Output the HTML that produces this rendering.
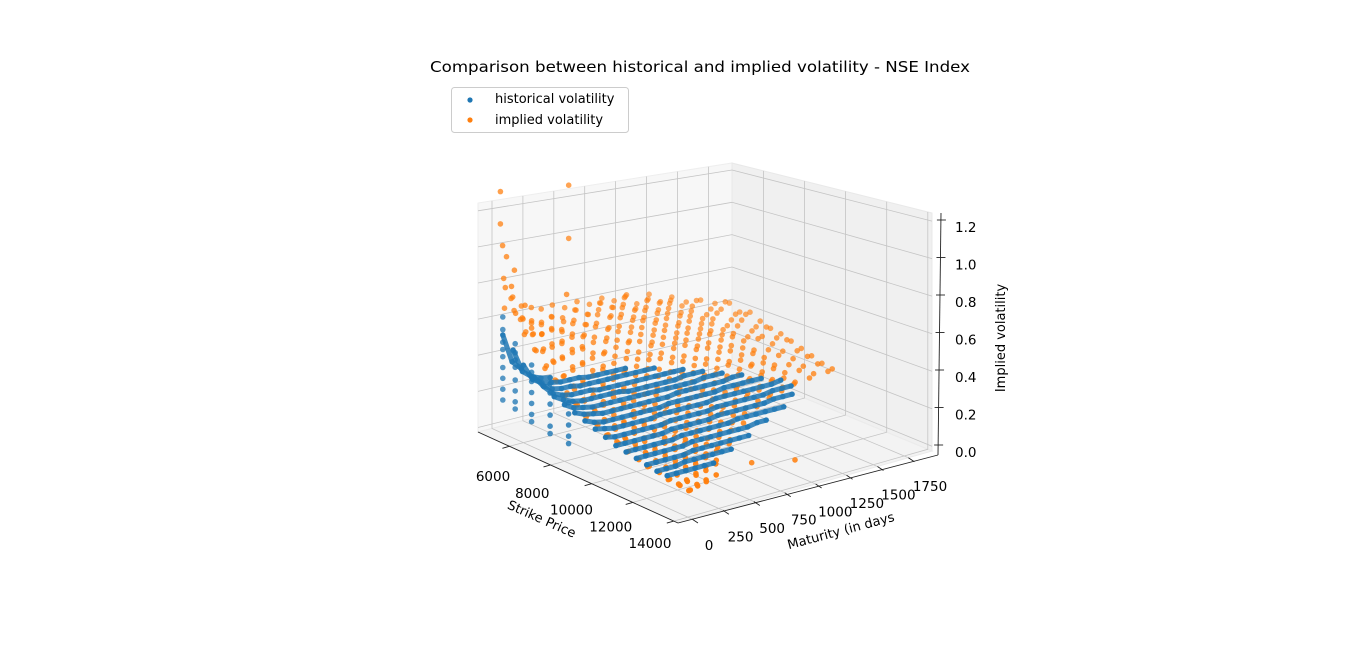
<!DOCTYPE html>
<html><head><meta charset="utf-8"><title>Historical vs implied volatility</title>
<style>
html,body{margin:0;padding:0;background:#fff;}
svg{display:block;font-family:"DejaVu Sans","Liberation Sans",sans-serif;}
</style></head>
<body>
<svg id="chart" width="1366" height="666" viewBox="0 0 1366 666" xmlns="http://www.w3.org/2000/svg">
<rect x="0" y="0" width="1366" height="666" fill="#fff"/>
<text x="700" y="72" font-size="15" text-anchor="middle" textLength="540" lengthAdjust="spacingAndGlyphs">Comparison between historical and implied volatility - NSE Index</text>
<g id="panes"></g>
<g id="grid"></g>
<g id="axes"></g>
<g id="orange"></g>
<g id="blue"></g>
<text x="540" y="523" font-size="13" text-anchor="middle" transform="rotate(24 540 523)">Strike Price</text>
<text x="842" y="535" font-size="13" text-anchor="middle" transform="rotate(-15 842 535)">Maturity (in days</text>
<text x="1005" y="338" font-size="13" text-anchor="middle" transform="rotate(-90 1005 338)">Implied volatility</text>
<g>
<rect x="451.5" y="87.5" width="177" height="45" rx="3" fill="#fff" fill-opacity="0.85" stroke="#ccc"/>
<circle cx="470" cy="100" r="2.6" fill="#1f77b4"/>
<text x="495" y="103" font-size="13">historical volatility</text>
<circle cx="470" cy="120" r="2.6" fill="#ff7f0e"/>
<text x="495" y="124" font-size="13">implied volatility</text>
</g>
</svg>
<script>
// ---- tick arrays ----
const strikeTicks = [6000, 8000, 10000, 12000, 14000];
const maturityTicks = [0, 250, 500, 750, 1000, 1250, 1500, 1750];
const volTicks = [0.0, 0.2, 0.4, 0.6, 0.8, 1.0, 1.2];
const volTickLabels = ["0.0", "0.2", "0.4", "0.6", "0.8", "1.0", "1.2"];

// ---- historical volatility (blue): rows at constant strike over a maturity grid ----
const blueMaturityGrid = [0,75,150,225,300,375,450,525,600,675,750,825,900,975,1050,1125,1200,1275,1350,1425,1500];
const blueRowStrikes = [5000,5500,6000,6500,7000,7500,8000,8500,9000,9500,10000,10500,11000,11500,12000,12500,13000];
const blueRowVols = [
 [0.52,0.36,0.31],
 [0.46,0.33,0.29,0.27,0.26],
 [0.40,0.31,0.28,0.27,0.26,0.26,0.26,0.25,0.25,0.25,0.25,0.25],
 [0.36,0.30,0.27,0.26,0.26,0.25,0.25,0.25,0.25,0.25,0.25,0.25,0.25,0.25],
 [0.33,0.28,0.26,0.25,0.25,0.25,0.24,0.24,0.24,0.24,0.24,0.24,0.24,0.24,0.24,0.24],
 [0.30,0.27,0.25,0.24,0.24,0.24,0.24,0.24,0.23,0.23,0.23,0.23,0.23,0.23,0.24,0.24,0.24],
 [0.28,0.25,0.24,0.23,0.23,0.23,0.23,0.23,0.23,0.23,0.23,0.23,0.23,0.23,0.23,0.24,0.24,0.24],
 [0.26,0.24,0.23,0.22,0.22,0.22,0.22,0.22,0.22,0.22,0.22,0.23,0.23,0.23,0.23,0.23,0.23,0.24,0.24],
 [0.24,0.22,0.21,0.21,0.21,0.21,0.21,0.21,0.21,0.22,0.22,0.22,0.22,0.22,0.22,0.23,0.23,0.23,0.23,0.23],
 [0.22,0.21,0.20,0.20,0.20,0.20,0.20,0.21,0.21,0.21,0.21,0.21,0.21,0.22,0.22,0.22,0.22,0.22,0.22,0.22,0.23],
 [0.20,0.19,0.19,0.19,0.19,0.19,0.19,0.20,0.20,0.20,0.20,0.20,0.21,0.21,0.21,0.21,0.21,0.21,0.22,0.22,0.22],
 [0.18,0.18,0.18,0.18,0.18,0.18,0.19,0.19,0.19,0.19,0.19,0.20,0.20,0.20,0.20,0.20,0.20,0.21,0.21,0.21],
 [0.17,0.17,0.17,0.17,0.17,0.17,0.18,0.18,0.18,0.18,0.18,0.18,0.19,0.19,0.19,0.19,0.19,0.19],
 [0.16,0.16,0.16,0.16,0.16,0.16,0.17,0.17,0.17,0.17,0.17,0.17,0.17,0.18,0.18],
 [0.15,0.15,0.15,0.15,0.15,0.16,0.16,0.16,0.16,0.16,0.16,0.16],
 [0.14,0.14,0.14,0.15,0.15,0.15,0.15,0.15,0.15],
 [0.14,0.14,0.14,0.14,0.14,0.14]
];
// short-maturity blue columns
const blueColStrikes = [5000,5600,6400,7300,8200];
const blueColVols = [
 [0.62,0.55,0.48,0.44,0.40,0.34,0.28,0.22,0.16],
 [0.50,0.45,0.41,0.37,0.30,0.24,0.18,0.14],
 [0.42,0.38,0.33,0.27,0.21,0.15,0.11],
 [0.36,0.31,0.25,0.19,0.13,0.09],
 [0.30,0.24,0.18,0.12,0.08]
];

// ---- implied volatility (orange): rows at constant maturity over a strike grid ----
const orangeStrikeGrid = [5000,5500,6000,6500,7000,7500,8000,8500,9000,9500,10000,10500,11000,11500,12000,12500,13000,13500,14000];
const orangeRowMaturities = [20,80,150,230,310,400,500,600,700,800,900,1000,1100,1200,1350,1500];
const orangeRowVols = [
 [0.78,0.66,0.58,0.50,0.44,0.38,0.34,0.30,0.27,0.24,0.21,0.19,0.17,0.15,0.14,0.13,0.12,0.11,0.11],
 [0.72,0.62,0.56,0.50,0.45,0.40,0.35,0.31,0.28,0.25,0.23,0.20,0.18,0.17,0.15,0.14,0.13,0.12,0.12],
 [0.66,0.60,0.55,0.50,0.46,0.42,0.37,0.33,0.30,0.27,0.25,0.22,0.20,0.18,0.17,0.15,0.14,0.14,0.13],
 [0.64,0.58,0.56,0.52,0.48,0.44,0.40,0.36,0.33,0.30,0.27,0.25,0.22,0.20,0.19,0.17,0.16,0.15,0.15],
 [0.62,0.60,0.55,0.53,0.50,0.46,0.42,0.39,0.35,0.32,0.29,0.27,0.25,0.22,0.21,0.19,0.18,0.17,null],
 [0.63,0.58,0.57,0.52,0.51,0.47,0.44,0.41,0.37,0.34,0.31,0.29,0.27,0.25,0.23,0.21,0.20,null,null],
 [0.60,0.61,0.55,0.56,0.50,0.49,0.45,0.43,0.40,0.36,0.33,0.31,0.29,0.27,0.25,0.23,0.22,null,null],
 [0.62,0.57,0.59,0.53,0.54,0.50,0.47,0.45,0.42,0.39,0.36,0.33,0.31,0.29,0.27,0.25,null,null,null],
 [0.59,0.62,0.56,0.58,0.52,0.53,0.49,0.47,0.44,0.41,0.38,0.36,0.33,0.31,0.29,0.27,null,null,null],
 [0.61,0.58,0.60,0.55,0.57,0.51,0.52,0.48,0.46,0.43,0.40,0.38,0.35,0.33,0.31,null,null,null,null],
 [0.58,0.62,0.57,0.59,0.54,0.55,0.50,0.51,0.48,0.45,0.42,0.40,0.37,0.35,0.33,null,null,null,null],
 [0.60,0.57,0.61,0.56,0.58,0.53,0.54,0.50,0.50,0.47,0.44,0.42,0.39,0.37,0.35,null,null,null,null],
 [null,0.61,0.58,0.60,0.55,0.57,0.52,0.53,0.50,0.49,0.46,0.43,0.41,0.39,0.37,null,null,null,null],
 [null,null,0.60,0.57,0.59,0.54,0.56,0.52,0.52,0.50,0.47,0.45,0.43,0.41,0.38,null,null,null,null],
 [null,null,null,0.58,0.55,0.57,0.53,0.55,0.51,0.50,0.48,0.46,0.44,0.42,0.40,null,null,null,null],
 [null,null,null,null,0.56,0.53,0.55,0.52,0.50,0.49,0.47,0.45,0.43,0.41,0.40,null,null,null,null]
];
// second trade-date of implied vols (offset grid)
const orangeStrikeGrid2 = [5250,5750,6250,6750,7250,7750,8250,8750,9250,9750,10250,10750,11250,11750,12250,12750,13250,13750];
const orangeRowMaturities2 = [50,115,190,270,355,450,550,650,750,850,950,1050,1150,1275,1425];
const orangeRowVols2 = [
 [0.66,0.55,0.49,0.41,0.37,0.31,0.29,0.24,0.23,0.19,0.18,0.15,0.14,0.12,0.12,0.10,0.10,0.09],
 [0.61,0.54,0.47,0.44,0.38,0.35,0.30,0.28,0.24,0.23,0.19,0.18,0.16,0.14,0.13,0.12,0.11,0.11],
 [0.57,0.53,0.50,0.45,0.42,0.37,0.34,0.30,0.28,0.24,0.23,0.20,0.18,0.17,0.15,0.14,0.13,0.12],
 [0.55,0.55,0.49,0.48,0.43,0.41,0.36,0.34,0.30,0.28,0.25,0.23,0.21,0.19,0.17,0.16,0.15,null],
 [0.58,0.52,0.53,0.47,0.47,0.42,0.40,0.35,0.34,0.30,0.28,0.25,0.23,0.21,0.20,0.18,0.17,null],
 [0.54,0.57,0.51,0.52,0.46,0.46,0.41,0.40,0.36,0.34,0.30,0.29,0.26,0.24,0.22,0.20,null,null],
 [0.59,0.53,0.56,0.50,0.51,0.47,0.45,0.42,0.40,0.36,0.35,0.31,0.29,0.27,0.24,0.22,null,null],
 [0.55,0.60,0.52,0.55,0.49,0.51,0.46,0.46,0.41,0.40,0.36,0.35,0.31,0.30,0.27,null,null,null],
 [0.60,0.55,0.58,0.53,0.55,0.49,0.50,0.45,0.45,0.41,0.40,0.36,0.35,0.32,0.30,null,null,null],
 [0.56,0.60,0.55,0.57,0.52,0.54,0.49,0.50,0.45,0.44,0.41,0.40,0.37,0.35,0.32,null,null,null],
 [0.61,0.56,0.59,0.54,0.57,0.51,0.53,0.48,0.49,0.45,0.44,0.41,0.40,0.37,0.35,null,null,null],
 [null,0.60,0.56,0.59,0.53,0.56,0.51,0.53,0.48,0.48,0.45,0.44,0.41,0.40,0.37,null,null,null],
 [null,0.57,0.60,0.55,0.58,0.53,0.55,0.51,0.52,0.48,0.47,0.44,0.43,0.40,0.39,null,null,null],
 [null,null,0.57,0.60,0.54,0.57,0.52,0.54,0.50,0.51,0.47,0.46,0.43,0.42,0.40,null,null,null],
 [null,null,null,0.56,0.59,0.54,0.56,0.51,0.53,0.49,0.50,0.46,0.45,0.43,0.41,null,null,null]
];
const orangeExtraStrikes = [4700,4700,4750,5000,5200,4800,5300,5100,5600,4900,5500,6300,5500,5500,5800,6000,13800,12900];
const orangeExtraMaturities = [30,30,40,30,60,40,20,50,80,30,60,300,450,450,100,150,900,700];
const orangeExtraVols = [1.30,1.12,1.00,0.95,0.88,0.82,0.80,0.72,0.70,0.66,0.62,0.76,1.32,1.02,0.58,0.55,0.10,0.08];

// ---- projection ----
const S0=4472,S1=14204,M0=-113,M1=1941,Z0=-0.025,Z1=1.243;
const A=[478,432],B=[678,523],C=[932,451],D=[732,368];
const hA=229,hB=250,hC=238,hD=205;
function P(s,m,z){
  const u=(s-S0)/(S1-S0), v=(m-M0)/(M1-M0);
  const wa=(1-u)*(1-v), wb=u*(1-v), wc=u*v, wd=(1-u)*v;
  const x=A[0]*wa+B[0]*wb+C[0]*wc+D[0]*wd;
  const y=A[1]*wa+B[1]*wb+C[1]*wc+D[1]*wd;
  const h=hA*wa+hB*wb+hC*wc+hD*wd;
  const w=(z-Z0)/(Z1-Z0);
  return [x, y-w*h, ((1-u)+v)/2];
}
const NS="http://www.w3.org/2000/svg";
function mk(parent,tag,attrs){const e=document.createElementNS(NS,tag);for(const k in attrs)e.setAttribute(k,attrs[k]);parent.appendChild(e);return e;}
function pts(arr){return arr.map(p=>p[0].toFixed(1)+","+p[1].toFixed(1)).join(" ");}

// panes
const panes=document.getElementById("panes");
let e;
e=mk(panes,"polygon",{points:pts([P(S0,M0,Z0),P(S0,M1,Z0),P(S0,M1,Z1),P(S0,M0,Z1)]),fill:"#f7f7f7",stroke:"#eeeeee"});


e=mk(panes,"polygon",{points:pts([P(S0,M1,Z0),P(S1,M1,Z0),P(S1,M1,Z1),P(S0,M1,Z1)]),fill:"#f0f0f0",stroke:"#e8e8e8"});


e=mk(panes,"polygon",{points:pts([P(S0,M0,Z0),P(S1,M0,Z0),P(S1,M1,Z0),P(S0,M1,Z0)]),fill:"#f3f3f3",stroke:"#ebebeb"});



// grid
const grid=document.getElementById("grid");
const gs={stroke:"#c4c4c4","stroke-width":"0.8",fill:"none"};
strikeTicks.forEach(s=>{
  e=mk(grid,"polyline",Object.assign({points:pts([P(s,M0,Z0),P(s,M1,Z0),P(s,M1,Z1)])},gs));
  
  
});
maturityTicks.forEach(m=>{
  e=mk(grid,"polyline",Object.assign({points:pts([P(S1,m,Z0),P(S0,m,Z0),P(S0,m,Z1)])},gs));
  
  
});
volTicks.forEach(z=>{
  e=mk(grid,"polyline",Object.assign({points:pts([P(S0,M0,z),P(S0,M1,z),P(S1,M1,z)])},gs));
  
  
});

// axes
const axes=document.getElementById("axes");
const as={stroke:"#222","stroke-width":"0.9",fill:"none"};
e=mk(axes,"polyline",Object.assign({points:pts([P(S0,M0,Z0),P(S1,M0,Z0)])},as));


e=mk(axes,"polyline",Object.assign({points:pts([P(S1,M0,Z0),[938,455]])},as));


e=mk(axes,"line",Object.assign({x1:938,y1:455,x2:941,y2:213},as));


strikeTicks.forEach(s=>{
  const p=P(s,M0,Z0);
  e=mk(axes,"line",Object.assign({x1:p[0],y1:p[1],x2:p[0]-7,y2:p[1]+2},as));
  
  
  const t=(s-6000)/8000;
  e=mk(axes,"text",{x:493+t*157,y:481+t*67,"font-size":"13.5","text-anchor":"middle"});
  e.textContent=String(s);
  
  
});
maturityTicks.forEach(m=>{
  const p=P(S1,m,Z0);
  e=mk(axes,"line",Object.assign({x1:p[0],y1:p[1],x2:p[0]+6,y2:p[1]+4},as));
  
  
  const t=m/1750;
  e=mk(axes,"text",{x:709+t*221,y:550-t*59,"font-size":"13.5","text-anchor":"middle"});
  e.textContent=String(m);
  
  
});
volTicks.forEach((z,i)=>{
  const y=445-z/1.2*225, x=938+3*(455-y)/242;
  e=mk(axes,"line",Object.assign({x1:x-4,y1:y,x2:x+5,y2:y},as));
  
  
  e=mk(axes,"text",{x:955,y:y+12,"font-size":"13.5"});
  e.textContent=volTickLabels[i];
  
  
});

// points
function dot(g,s,m,z,color,name){
  const p=P(s,m,z);
  const op=Math.max(0.5,1-0.5*p[2]);
  const c=mk(g,"circle",{cx:p[0].toFixed(1),cy:p[1].toFixed(1),r:"2.8",fill:color,"fill-opacity":op.toFixed(2)});
  
  
}
const og=document.getElementById("orange");
for(let i=orangeRowMaturities.length-1;i>=0;i--){
  orangeRowVols[i].forEach((v,j)=>{ if(v!==null) dot(og,orangeStrikeGrid[j],orangeRowMaturities[i],v,"#ff7f0e","implied-vol-point"); });
}
for(let i=orangeRowMaturities2.length-1;i>=0;i--){
  orangeRowVols2[i].forEach((v,j)=>{ if(v!==null) dot(og,orangeStrikeGrid2[j],orangeRowMaturities2[i],v,"#ff7f0e","implied-vol-point"); });
}
orangeExtraVols.forEach((v,i)=>dot(og,orangeExtraStrikes[i],orangeExtraMaturities[i],v,"#ff7f0e","implied-vol-point"));
const bg=document.getElementById("blue");
blueRowStrikes.forEach((s,i)=>{
  const rowPts=blueRowVols[i].map((v,j)=>P(s,blueMaturityGrid[j],v));
  const line=mk(bg,"polyline",{points:pts(rowPts),fill:"none",stroke:"#1f77b4","stroke-width":"5","stroke-linecap":"round","stroke-linejoin":"round","stroke-opacity":"0.85"});
  
  
  blueRowVols[i].forEach((v,j)=>dot(bg,s,blueMaturityGrid[j],v,"#1f77b4","historical-vol-point"));
});
blueColStrikes.forEach((s,i)=>{
  blueColVols[i].forEach(v=>dot(bg,s,0,v,"#1f77b4","historical-vol-point"));
});
</script>
</body></html>
